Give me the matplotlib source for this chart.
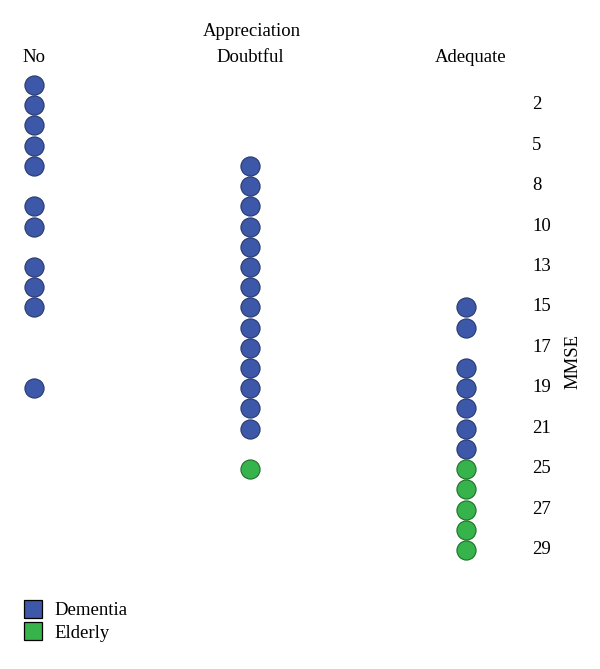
import matplotlib
matplotlib.use("Agg")
import matplotlib.pyplot as plt
import matplotlib.transforms as mtransforms
from matplotlib.lines import Line2D

# Data (MMSE ordinal rank positions, 1 = top row)
groups = ["No", "Doubtful", "Adequate"]
dementia_no = [1, 2, 3, 4, 5, 7, 8, 10, 11, 12, 16]
dementia_doubtful = [5, 6, 7, 8, 9, 10, 11, 12, 13, 14, 15, 16, 17, 18]
elderly_doubtful = [20]
dementia_adequate = [12, 13, 15, 16, 17, 18, 19]
elderly_adequate = [20, 21, 22, 23, 24]
tick_ranks = [2, 4, 6, 8, 10, 12, 14, 16, 18, 20, 22, 24]
tick_labels = ["2", "5", "8", "10", "13", "15", "17", "19", "21", "25", "27", "29"]

blue = "#3d58a8"
blue_edge = "#27396e"
green = "#36b34a"
green_edge = "#1f6e2c"

plt.rcParams['font.family'] = ['Liberation Serif', 'DejaVu Serif']
fig = plt.figure(figsize=(6.0, 6.69), dpi=100)
W, H = 600, 669
ax = fig.add_axes([0, 0, 520 / W, 1])
for s in ax.spines.values():
    s.set_visible(False)

row_px = 20.217
top_px = 85
ax.set_xlim(-34 / 216, (520 - 34) / 216)
ax.set_ylim(1 + (H - top_px) / row_px, 1 - top_px / row_px)

ms = 190
dementia = [dementia_no, dementia_doubtful, dementia_adequate]
elderly = [[], elderly_doubtful, elderly_adequate]
for i, vals in enumerate(dementia):
    ax.scatter([i] * len(vals), vals, s=ms, c=blue, edgecolors=blue_edge, linewidths=0.8, zorder=3)
for i, vals in enumerate(elderly):
    if vals:
        ax.scatter([i] * len(vals), vals, s=ms, c=green, edgecolors=green_edge, linewidths=0.8, zorder=3)

fs = 13.5
ax.set_xticks([])
ax.yaxis.tick_right()
ax.set_yticks(tick_ranks)
ax.set_yticklabels(tick_labels, fontsize=fs)
ax.tick_params(axis='y', length=0, pad=13)
offset = mtransforms.ScaledTranslation(-6 / 100, 2.5 / 100, fig.dpi_scale_trans)
for lab in ax.get_yticklabels():
    lab.set_transform(lab.get_transform() + offset)

# Column headers
for i, g in enumerate(groups):
    xoff = 0.02 if g == "Adequate" else 0
    ax.text(i + xoff, 1 + (58 - top_px) / row_px, g, ha='center', va='center', fontsize=fs)
ax.text(1.01, 1 + (31 - top_px) / row_px, "Appreciation", ha='center', va='center', fontsize=fs)

fig.text(573 / W, 1 - 361 / H, "MMSE", rotation=90, ha='center', va='center', fontsize=fs)

handles = [
    Line2D([], [], marker='s', linestyle='none', markersize=13, markerfacecolor=blue,
           markeredgecolor='black', markeredgewidth=0.9, label='Dementia'),
    Line2D([], [], marker='s', linestyle='none', markersize=13, markerfacecolor=green,
           markeredgecolor='black', markeredgewidth=0.9, label='Elderly'),
]
fig.legend(handles=handles, loc='upper left', bbox_to_anchor=(23 / W, 1 - 602 / H),
           frameon=False, fontsize=fs, handlelength=1.1, handletextpad=0.6,
           labelspacing=0.28, borderpad=0, borderaxespad=0)

fig.savefig("out.png", dpi=100)
